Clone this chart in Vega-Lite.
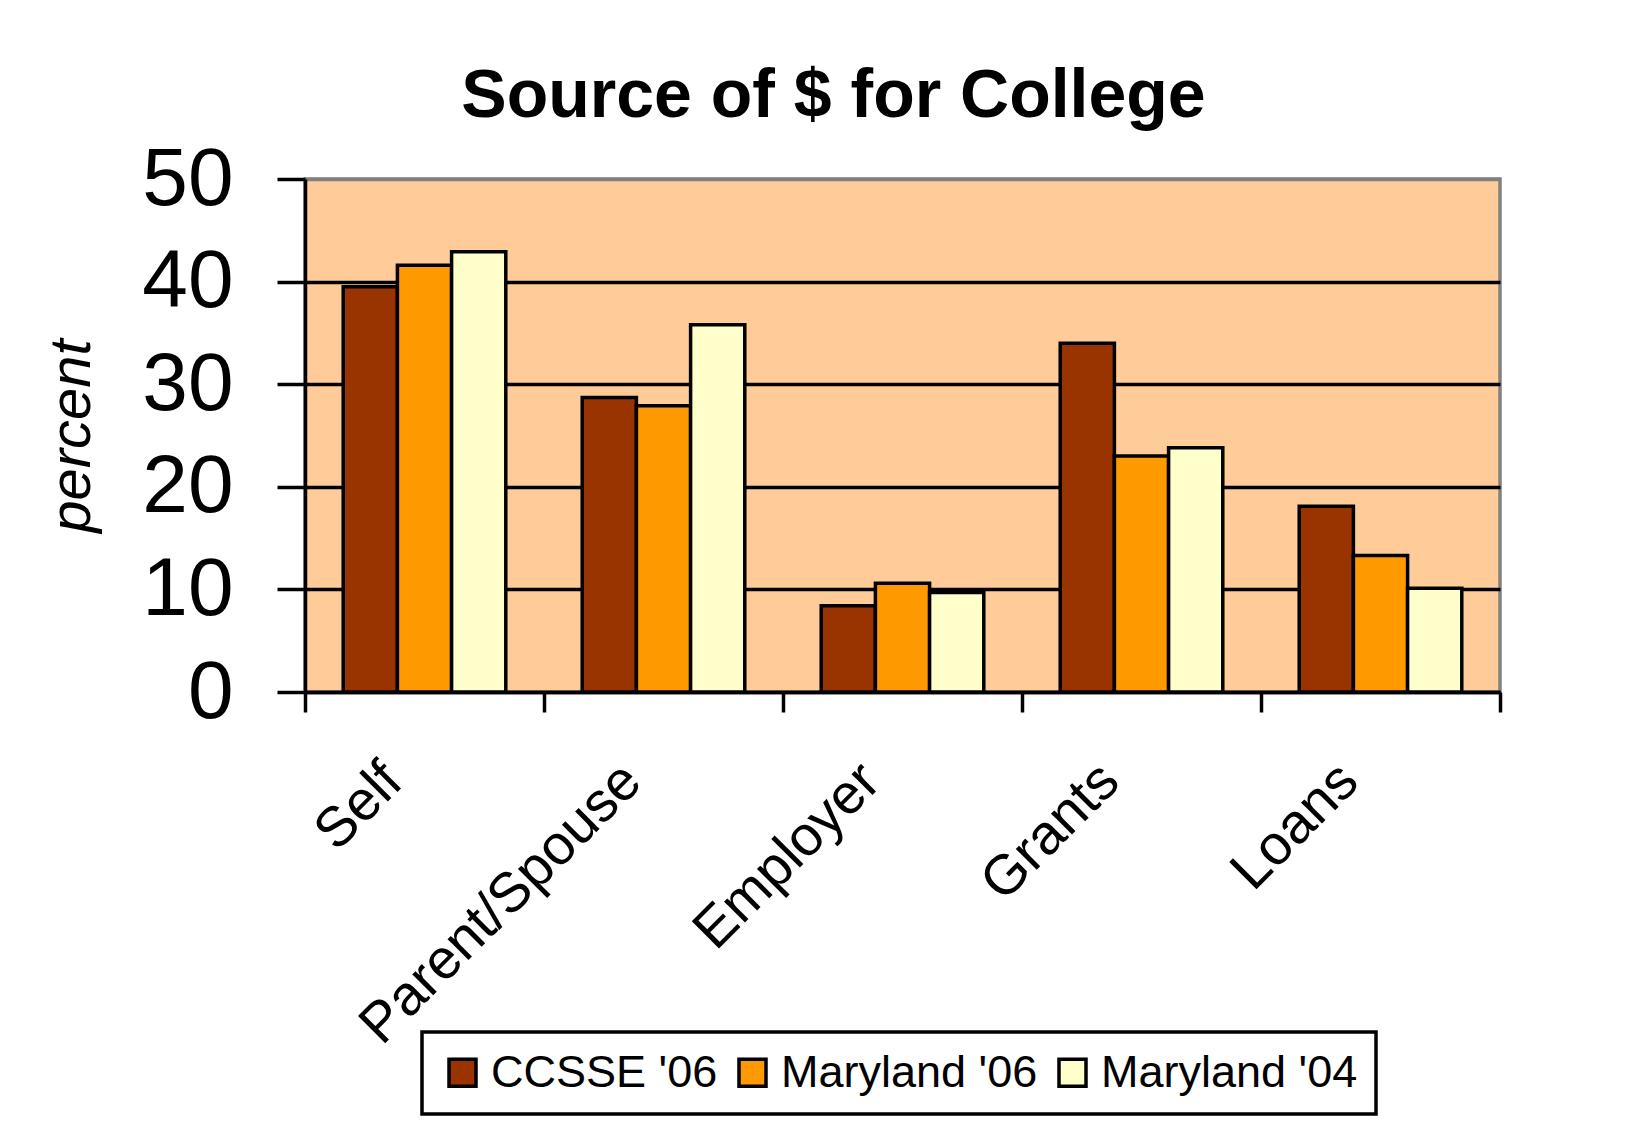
{
  "$schema": "https://vega.github.io/schema/vega-lite/v6.json",
  "autosize": {"type": "none"},
  "padding": {"left": 305, "top": 179, "right": 147, "bottom": 445},
  "width": 1195,
  "height": 513,
  "background": "white",
  "title": {
    "text": "Source of $ for College",
    "font": "Liberation Sans",
    "fontSize": 68,
    "fontWeight": "bold",
    "color": "black",
    "anchor": "middle",
    "baseline": "alphabetic",
    "dx": -69,
    "offset": -47
  },
  "data": {
    "values": [
      {"source": "Self", "survey": "CCSSE '06", "percent": 39.5},
      {"source": "Self", "survey": "Maryland '06", "percent": 41.6},
      {"source": "Self", "survey": "Maryland '04", "percent": 42.9},
      {"source": "Parent/Spouse", "survey": "CCSSE '06", "percent": 28.7},
      {"source": "Parent/Spouse", "survey": "Maryland '06", "percent": 27.9},
      {"source": "Parent/Spouse", "survey": "Maryland '04", "percent": 35.8},
      {"source": "Employer", "survey": "CCSSE '06", "percent": 8.4},
      {"source": "Employer", "survey": "Maryland '06", "percent": 10.6},
      {"source": "Employer", "survey": "Maryland '04", "percent": 9.7},
      {"source": "Grants", "survey": "CCSSE '06", "percent": 34.0},
      {"source": "Grants", "survey": "Maryland '06", "percent": 23.0},
      {"source": "Grants", "survey": "Maryland '04", "percent": 23.8},
      {"source": "Loans", "survey": "CCSSE '06", "percent": 18.1},
      {"source": "Loans", "survey": "Maryland '06", "percent": 13.3},
      {"source": "Loans", "survey": "Maryland '04", "percent": 10.1}
    ]
  },
  "mark": {"type": "bar", "stroke": "black", "strokeWidth": 3.5},
  "encoding": {
    "x": {
      "field": "source",
      "type": "nominal",
      "sort": ["Self", "Parent/Spouse", "Employer", "Grants", "Loans"],
      "scale": {"paddingInner": 0, "paddingOuter": 0},
      "axis": {
        "title": null,
        "labelAngle": -45,
        "labelAlign": "right",
        "labelBaseline": "middle",
        "labelFont": "Liberation Sans",
        "labelFontSize": 56,
        "labelColor": "black",
        "labelPadding": 60,
        "labelOffset": -32,
        "labelLimit": 1000,
        "tickBand": "extent",
        "tickSize": 20,
        "tickWidth": 3.5,
        "tickColor": "black",
        "domainColor": "black",
        "domainWidth": 3.5,
        "grid": false
      }
    },
    "xOffset": {
      "field": "survey",
      "type": "nominal",
      "sort": ["CCSSE '06", "Maryland '06", "Maryland '04"],
      "scale": {"paddingInner": 0, "paddingOuter": 0.705}
    },
    "y": {
      "field": "percent",
      "type": "quantitative",
      "scale": {"domain": [0, 50], "nice": false},
      "axis": {
        "title": "percent",
        "titleFont": "Liberation Sans",
        "titleFontSize": 58,
        "titleFontStyle": "italic",
        "titleFontWeight": "normal",
        "titleColor": "black",
        "titlePadding": 40,
        "values": [0, 10, 20, 30, 40, 50],
        "labelFont": "Liberation Sans",
        "labelFontSize": 82,
        "labelColor": "black",
        "labelPadding": 44,
        "tickSize": 28,
        "tickWidth": 3.5,
        "tickColor": "black",
        "domainColor": "black",
        "domainWidth": 3.5,
        "grid": true,
        "gridWidth": 3.5,
        "gridColor": {"condition": {"test": "datum.value == 50", "value": "#808080"}, "value": "black"},
        "gridOpacity": 1
      }
    },
    "color": {
      "field": "survey",
      "type": "nominal",
      "sort": ["CCSSE '06", "Maryland '06", "Maryland '04"],
      "scale": {
        "domain": ["CCSSE '06", "Maryland '06", "Maryland '04"],
        "range": ["#993300", "#ff9900", "#ffffcc"]
      },
      "legend": {
        "title": null,
        "orient": "none",
        "legendX": 117,
        "legendY": 853,
        "direction": "horizontal",
        "columns": 3,
        "columnPadding": 12,
        "padding": 18,
        "strokeColor": "black",
        "fillColor": "white",
        "symbolType": "square",
        "symbolSize": 729,
        "symbolStrokeColor": "black",
        "symbolStrokeWidth": 3.5,
        "symbolOpacity": 1,
        "labelFont": "Liberation Sans",
        "labelFontSize": 45,
        "labelColor": "black",
        "labelOffset": 6,
        "labelLimit": 1000
      }
    }
  },
  "config": {
    "view": {"fill": "#ffcc99", "stroke": "#808080", "strokeWidth": 3.5},
    "legend": {"strokeWidth": 3.5}
  }
}
